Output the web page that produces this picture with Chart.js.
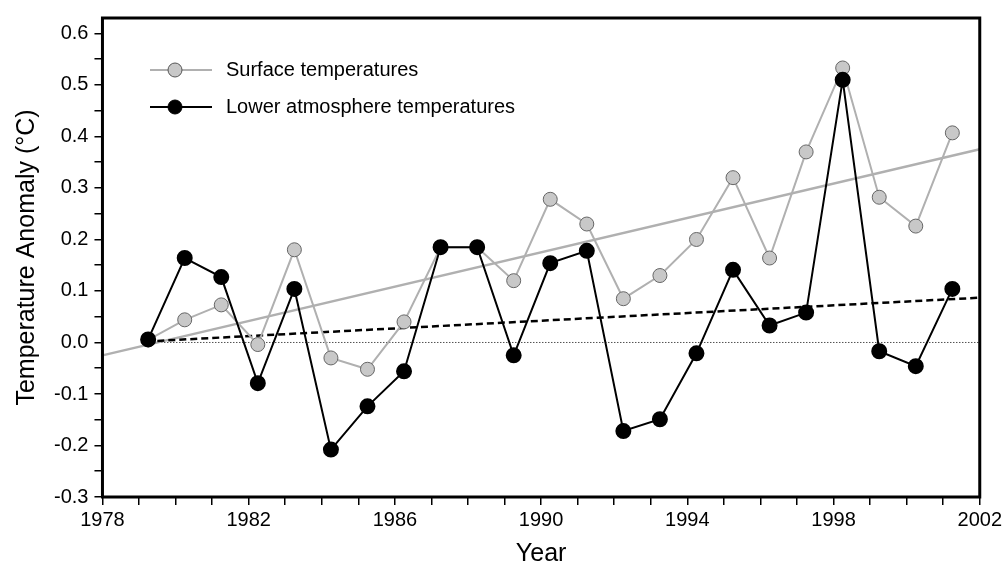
<!DOCTYPE html>
<html><head><meta charset="utf-8">
<script src="https://cdn.jsdelivr.net/npm/chart.js@4/dist/chart.umd.min.js"></script>
<style>body{margin:0;background:#fff}#wrap{width:1005px;height:573px}</style>
</head><body><div id="wrap"><canvas id="c"></canvas></div>
<script>
const years = [1979,1980,1981,1982,1983,1984,1985,1986,1987,1988,1989,1990,1991,1992,1993,1994,1995,1996,1997,1998,1999,2000,2001];
const surface = [0.005,0.044,0.073,-0.004,0.18,-0.03,-0.052,0.04,0.185,0.185,0.12,0.278,0.23,0.085,0.13,0.2,0.32,0.164,0.37,0.533,0.282,0.226,0.407];
const lower = [0.006,0.164,0.127,-0.079,0.104,-0.208,-0.124,-0.056,0.185,0.185,-0.025,0.154,0.178,-0.172,-0.149,-0.021,0.141,0.033,0.058,0.51,-0.017,-0.046,0.104];
const surfaceTrend = [[1978, -0.025], [2002, 0.375]];
const lowerTrend = [[1979.2, 0.002], [2002, 0.087]];
const zeroLine = [[1979.2, 0], [2002, 0]];
const offset = 0.25;

const GRAY = "#b0b0b0";
const font = "'Liberation Sans', Arial, sans-serif";

const legendPlugin = {
  id: "inlineLegend",
  afterDraw(chart) {
    const ctx = chart.ctx;
    const items = [
      { text: "Surface temperatures", line: GRAY, fill: "#c8c8c8", stroke: "#555", y: 70 },
      { text: "Lower atmosphere temperatures", line: "#000", fill: "#000", stroke: "#000", y: 107 },
    ];
    ctx.save();
    ctx.font = "20px " + font;
    ctx.textBaseline = "middle";
    for (const it of items) {
      ctx.strokeStyle = it.line; ctx.lineWidth = 2;
      ctx.beginPath(); ctx.moveTo(150, it.y); ctx.lineTo(212, it.y); ctx.stroke();
      ctx.fillStyle = it.fill; ctx.strokeStyle = it.stroke; ctx.lineWidth = 1;
      ctx.beginPath(); ctx.arc(175, it.y, 7, 0, Math.PI * 2); ctx.fill(); ctx.stroke();
      ctx.fillStyle = "#000";
      ctx.fillText(it.text, 226, it.y);
    }
    const a = chart.chartArea;
    ctx.strokeStyle = "#000"; ctx.lineWidth = 3;
    ctx.strokeRect(a.left, a.top, a.right - a.left, a.bottom - a.top);
    ctx.restore();
  }
};

const pts = (arr) => arr.map((v, i) => ({ x: years[i] + offset, y: v }));
const pairs = (arr) => arr.map(([x, y]) => ({ x, y }));

new Chart(document.getElementById("c"), {
  type: "line",
  data: {
    datasets: [
      { data: pts(lower), borderColor: "#000", borderWidth: 2, pointRadius: 7, pointBackgroundColor: "#000", pointBorderColor: "#000" },
      { data: pts(surface), borderColor: GRAY, borderWidth: 2, pointRadius: 7, pointBackgroundColor: "#c8c8c8", pointBorderColor: "#666", pointBorderWidth: 1 },
      { data: pairs(lowerTrend), borderColor: "#000", borderWidth: 2.5, borderDash: [7, 4], pointRadius: 0 },
      { data: pairs(surfaceTrend), borderColor: GRAY, borderWidth: 2.5, pointRadius: 0 },
      { data: pairs(zeroLine), borderColor: "#000", borderWidth: 1, borderDash: [1, 2], pointRadius: 0 },
    ],
  },
  options: {
    responsive: true,
    maintainAspectRatio: false,
    animation: false,
    layout: { padding: { top: 3, right: 25, left: 8, bottom: 4 } },
    plugins: { legend: { display: false }, tooltip: { enabled: false } },
    scales: {
      x: {
        type: "linear", min: 1978, max: 2002,
        grid: { drawOnChartArea: false, color: "#000", tickLength: 8, lineWidth: 1.5 },
        border: { display: false },
        ticks: {
          stepSize: 1, color: "#000", font: { size: 20, family: font }, maxRotation: 0, autoSkip: false,
          callback: (v) => ((v - 1978) % 4 === 0 ? String(v) : ""),
        },
        title: { display: true, text: "Year", color: "#000", font: { size: 25, family: font }, padding: { top: 4, bottom: 0 } },
      },
      y: {
        min: -0.3, max: 0.63,
        afterBuildTicks: (s) => {
          const t = [];
          for (let i = -6; i <= 12; i++) t.push({ value: i * 0.05 });
          s.ticks = t;
        },
        grid: { drawOnChartArea: false, color: "#000", tickLength: 8, lineWidth: 1.5 },
        border: { display: false },
        ticks: {
          color: "#000", font: { size: 20, family: font }, autoSkip: false, padding: 6,
          callback: (v) => { const k = Math.round(v * 20); return k % 2 === 0 ? (k / 20).toFixed(1) : ""; },
        },
        title: { display: true, text: "Temperature Anomaly (°C)", color: "#000", font: { size: 25, family: font }, padding: { bottom: 6 } },
      },
    },
  },
  plugins: [legendPlugin],
});
</script></body></html>
